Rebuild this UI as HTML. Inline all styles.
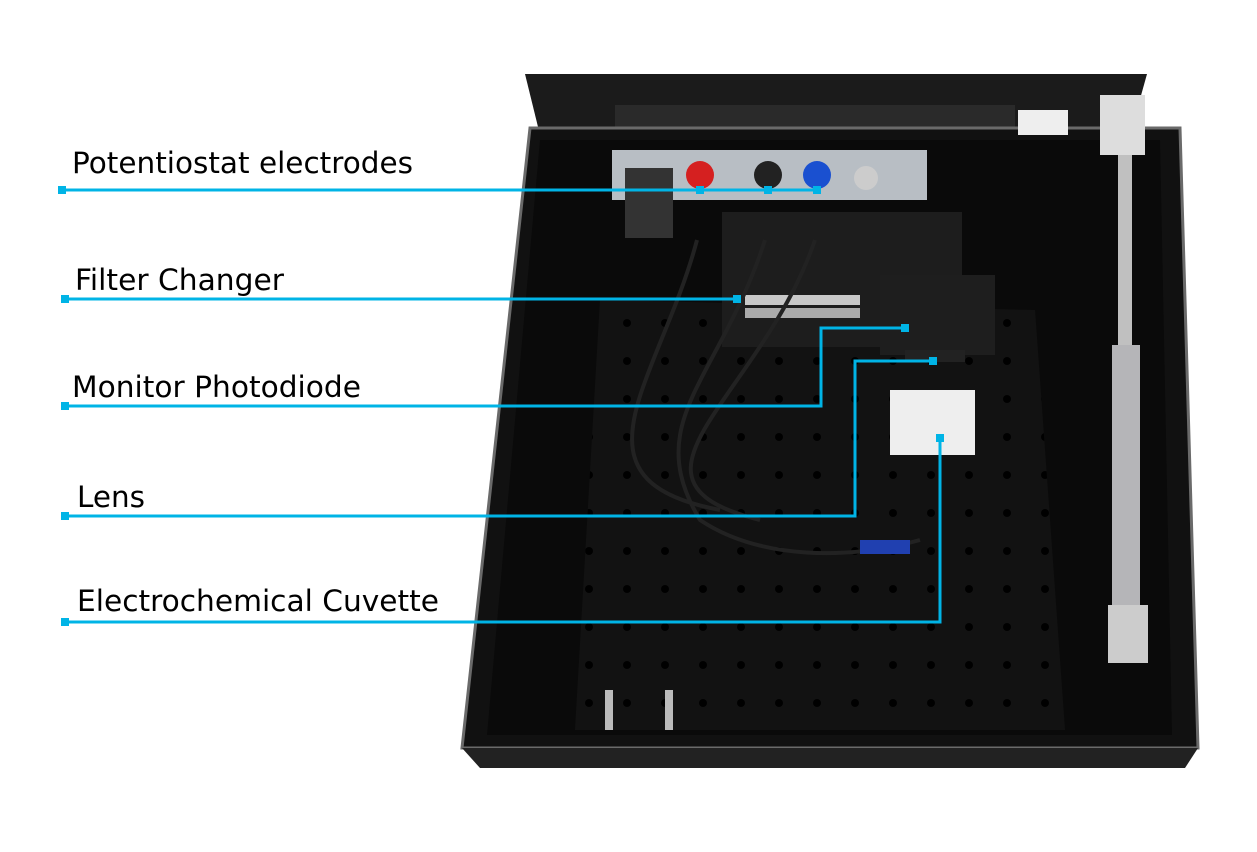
<!DOCTYPE html>
<html><head><meta charset="utf-8"><style>
body{margin:0;background:#fff;width:1257px;height:852px;overflow:hidden}
svg{display:block}
text{font-family:"DejaVu Sans","Liberation Sans",sans-serif;font-size:29px;fill:#000}
</style></head><body>
<svg width="1257" height="852" viewBox="0 0 1257 852">
<defs>
<pattern id="holes" x="0" y="0" width="38" height="38" patternUnits="userSpaceOnUse">
<rect width="38" height="38" fill="#121212"/><circle cx="19" cy="19" r="4" fill="#000"/>
</pattern>
</defs>
<polygon points="525,74 1147,74 1130,135 540,135" fill="#1b1b1b"/>
<rect x="615" y="105" width="400" height="25" fill="#2a2a2a"/>
<polygon points="530,128 1180,128 1198,748 462,748" fill="#111" stroke="#6a6a6a" stroke-width="3"/>
<polygon points="462,748 1198,748 1185,768 480,768" fill="#222"/>
<polygon points="540,140 1160,140 1172,735 487,735" fill="#0a0a0a"/>
<polygon points="600,300 1035,310 1065,730 575,730" fill="url(#holes)"/>
<rect x="612" y="150" width="315" height="50" fill="#b8bec4"/>
<circle cx="700" cy="175" r="14" fill="#d52020"/><circle cx="768" cy="175" r="14" fill="#222"/>
<circle cx="817" cy="175" r="14" fill="#1a50d0"/><circle cx="866" cy="178" r="12" fill="#ccc"/>
<rect x="625" y="168" width="48" height="70" fill="#333"/>
<rect x="722" y="212" width="240" height="135" fill="#1d1d1d"/>
<rect x="880" y="275" width="115" height="80" fill="#1e1e1e"/>
<rect x="745" y="295" width="115" height="10" fill="#c8c8c8"/>
<rect x="745" y="308" width="115" height="10" fill="#aaa"/>
<rect x="890" y="390" width="85" height="65" fill="#eee"/>
<rect x="905" y="350" width="60" height="12" fill="#222"/>
<path d="M765,240 C720,380 640,420 700,520 C760,560 850,560 920,540" stroke="#222" stroke-width="4" fill="none"/>
<path d="M697,240 C660,380 560,480 720,510" stroke="#222" stroke-width="4" fill="none"/>
<path d="M815,240 C760,400 600,480 760,520" stroke="#222" stroke-width="4" fill="none"/>
<rect x="860" y="540" width="50" height="14" fill="#2040b0"/>
<rect x="1118" y="150" width="14" height="200" fill="#c0c0c0"/>
<rect x="1112" y="345" width="28" height="265" fill="#b5b5b8"/>
<rect x="1108" y="605" width="40" height="58" fill="#ccc"/>
<rect x="1100" y="95" width="45" height="60" fill="#ddd"/>
<rect x="1018" y="110" width="50" height="25" fill="#eee"/>
<rect x="605" y="690" width="8" height="40" fill="#bbb"/><rect x="665" y="690" width="8" height="40" fill="#bbb"/>
<g stroke="#00b4e6" stroke-width="3" fill="none">
<polyline points="62,190 817,190"/>
<polyline points="65,299 737,299"/>
<polyline points="65,406 821,406 821,328 905,328"/>
<polyline points="65,516 855,516 855,361 933,361"/>
<polyline points="65,622 940,622 940,438"/>
</g>
<g fill="#00b4e6">
<rect x="58" y="186" width="8" height="8"/><rect x="696" y="186" width="8" height="8"/><rect x="764" y="186" width="8" height="8"/><rect x="813" y="186" width="8" height="8"/>
<rect x="61" y="295" width="8" height="8"/><rect x="733" y="295" width="8" height="8"/>
<rect x="61" y="402" width="8" height="8"/><rect x="901" y="324" width="8" height="8"/>
<rect x="61" y="512" width="8" height="8"/><rect x="929" y="357" width="8" height="8"/>
<rect x="61" y="618" width="8" height="8"/><rect x="936" y="434" width="8" height="8"/>
</g>
<text x="72" y="173" textLength="341" lengthAdjust="spacingAndGlyphs">Potentiostat electrodes</text>
<text x="75" y="290" textLength="209" lengthAdjust="spacingAndGlyphs">Filter Changer</text>
<text x="72" y="397" textLength="289" lengthAdjust="spacingAndGlyphs">Monitor Photodiode</text>
<text x="77" y="507" textLength="68" lengthAdjust="spacingAndGlyphs">Lens</text>
<text x="77" y="611" textLength="362" lengthAdjust="spacingAndGlyphs">Electrochemical Cuvette</text>
</svg>
</body></html>
